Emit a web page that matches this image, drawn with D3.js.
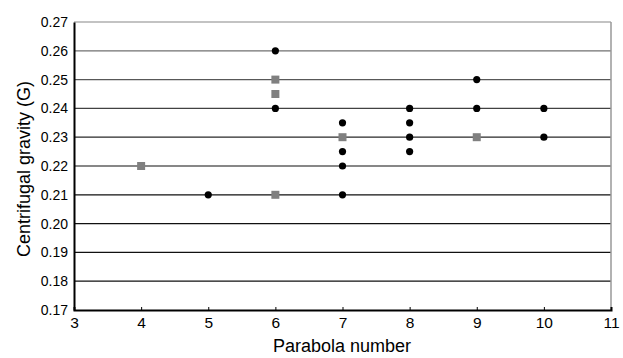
<!DOCTYPE html>
<html><head><meta charset="utf-8">
<script src="https://cdn.jsdelivr.net/npm/d3@7/dist/d3.min.js"></script>
<style>body{margin:0;background:#fff}svg{display:block}text{font-family:"Liberation Sans",Arial,sans-serif}</style>
</head><body>
<svg id="c" width="623" height="358"></svg>
<script>
const circleX = [5, 6, 6, 7, 7, 7, 7, 8, 8, 8, 8, 9, 9, 10, 10];
const circleY = [0.21, 0.26, 0.24, 0.235, 0.225, 0.22, 0.21, 0.24, 0.235, 0.23, 0.225, 0.25, 0.24, 0.24, 0.23];
const squareX = [4, 6, 6, 6, 7, 9];
const squareY = [0.22, 0.25, 0.245, 0.21, 0.23, 0.23];
const xTicks = [3, 4, 5, 6, 7, 8, 9, 10, 11];
const yTicks = [0.17, 0.18, 0.19, 0.20, 0.21, 0.22, 0.23, 0.24, 0.25, 0.26, 0.27];

const svg = d3.select("#c");
const L = 74, R = 611, T = 22, B = 310;
const x = d3.scaleLinear().domain([3, 11]).range([L, R]);
const y = d3.scaleLinear().domain([0.17, 0.27]).range([B, T]);
const gridColor = d3.scaleLinear().domain([0.22, 0.27]).range(["#111", "#888"]).clamp(true);

// grid lines
svg.append("g").selectAll("line").data(yTicks.slice(1)).join("line")
  .attr("x1", L).attr("x2", R).attr("y1", d => y(d)).attr("y2", d => y(d))
  .attr("stroke", d => gridColor(d)).attr("stroke-width", 1.2);
// right border
svg.append("line").attr("x1", R).attr("x2", R).attr("y1", T).attr("y2", B)
  .attr("stroke", "#999").attr("stroke-width", 1.5);

// axes
const xa = svg.append("g").attr("transform", `translate(0,${B})`)
  .call(d3.axisBottom(x).tickValues(xTicks).tickSize(-3).tickPadding(7).tickFormat(d3.format("d")));
const ya = svg.append("g").attr("transform", `translate(${L},0)`)
  .call(d3.axisLeft(y).tickValues(yTicks).tickSize(0).tickPadding(6).tickFormat(d3.format(".2f")));
[xa, ya].forEach(a => {
  a.select(".domain").attr("stroke", "#000").attr("stroke-width", 2);
  a.selectAll(".tick line").attr("stroke", "#000");
  a.selectAll("text").attr("fill", "#000").style("font-family", '"Liberation Sans",Arial,sans-serif');
});
xa.selectAll("text").attr("font-size", 15.5);
ya.selectAll("text").attr("font-size", 14);

// squares
svg.append("g").selectAll("rect").data(squareX.map((v, i) => [v, squareY[i]])).join("rect")
  .attr("x", d => x(d[0]) - 4).attr("y", d => y(d[1]) - 4)
  .attr("width", 8).attr("height", 8).attr("fill", "#808080");
// circles
svg.append("g").selectAll("circle").data(circleX.map((v, i) => [v, circleY[i]])).join("circle")
  .attr("cx", d => x(d[0])).attr("cy", d => y(d[1])).attr("r", 3.6).attr("fill", "#000");

// titles
svg.append("text").attr("x", 342).attr("y", 352).attr("text-anchor", "middle")
  .attr("font-size", 18).text("Parabola number");
svg.append("text").attr("transform", `translate(30,169) rotate(-90)`)
  .attr("text-anchor", "middle").attr("font-size", 18).text("Centrifugal gravity (G)");
</script>
</body></html>
